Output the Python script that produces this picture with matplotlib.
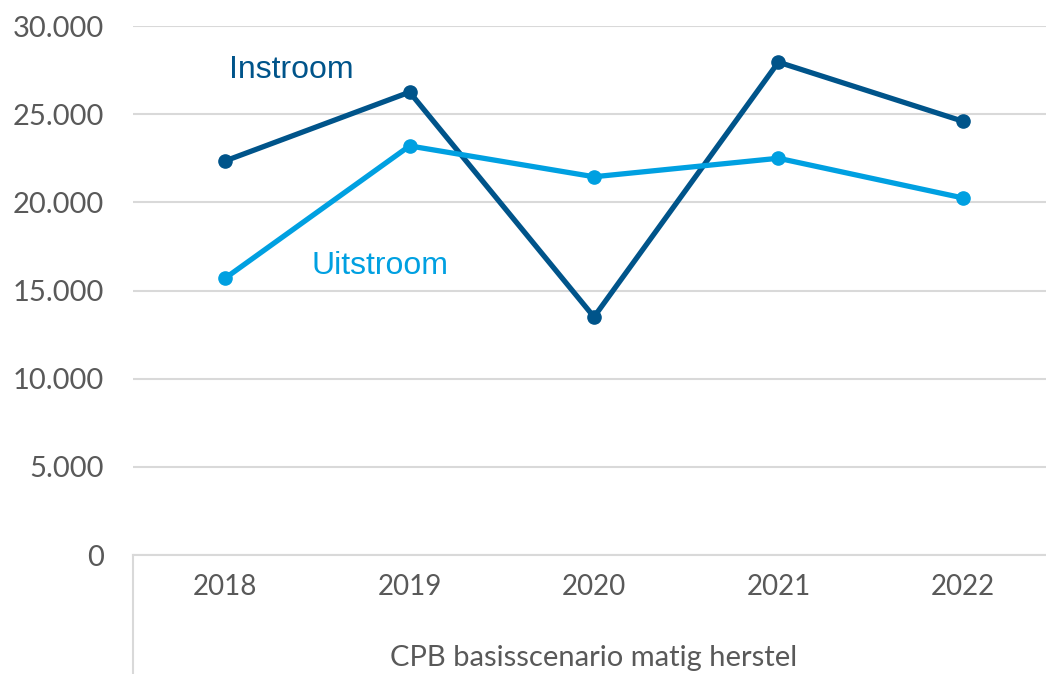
import matplotlib.pyplot as plt
from matplotlib.lines import Line2D

years = ["2018", "2019", "2020", "2021", "2022"]
instroom = [22350, 26250, 13500, 27950, 24600]
uitstroom = [15700, 23200, 21450, 22500, 20250]
group_label = "CPB basisscenario matig herstel"

dark = "#00548A"
light = "#00A0E1"
grid = "#D9D9D9"
txt = "#595959"

plt.rcParams["font.family"] = ["Lato", "DejaVu Sans"]

fig = plt.figure(figsize=(10.46, 6.74), dpi=100)
ax = fig.add_axes([133 / 1046, (674 - 555) / 674, (1055 - 133) / 1046, (555 - 26) / 674])

x = list(range(len(years)))
ax.plot(x, instroom, color=dark, lw=3.8, marker="o", ms=9.5, zorder=3)
ax.plot(x, uitstroom, color=light, lw=3.8, marker="o", ms=9.5, zorder=3)

ax.set_xlim(-0.5, 4.5)
ax.set_ylim(0, 30000)
ax.set_yticks(range(0, 30001, 5000))
ax.set_yticklabels([f"{v:,}".replace(",", ".") for v in range(0, 30001, 5000)])
ax.yaxis.grid(True, color=grid, lw=1.5)
ax.set_axisbelow(True)
for s in ["top", "right", "left"]:
    ax.spines[s].set_visible(False)
ax.spines["bottom"].set_color(grid)
ax.spines["bottom"].set_linewidth(1.5)
ax.tick_params(axis="y", length=0, pad=21, labelsize=21, labelcolor=txt)
ax.tick_params(axis="x", length=0, pad=14, labelsize=20, labelcolor=txt)
ax.set_xticks(x)
ax.set_xticklabels(years)

ax.text(0.02, 27500, "Instroom", color=dark, fontsize=23, family="Liberation Sans",
        ha="left", va="center")
ax.text(0.47, 16400, "Uitstroom", color=light, fontsize=23, family="Liberation Sans",
        ha="left", va="center")

fig.text(594 / 1046, 1 - 658 / 674, group_label, ha="center", va="center",
         fontsize=21, color=txt)
fig.add_artist(Line2D([133 / 1046, 133 / 1046], [0, (674 - 555) / 674],
                      color=grid, lw=1.5, transform=fig.transFigure))

fig.savefig("out.png", dpi=100)
